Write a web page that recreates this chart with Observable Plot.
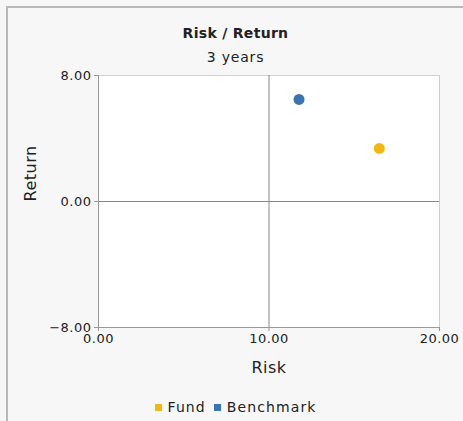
<!DOCTYPE html>
<html><head><meta charset="utf-8">
<script src="https://cdn.jsdelivr.net/npm/d3@7"></script>
<script src="https://cdn.jsdelivr.net/npm/@observablehq/plot@0.6"></script>
<style>
html,body{margin:0;padding:0;background:#f7f7f7;width:463px;height:421px;overflow:hidden;font-family:"DejaVu Sans",sans-serif;}
#wrap{position:relative;width:463px;height:421px;}
#border{position:absolute;left:6px;top:6px;width:600px;height:600px;border-left:2px solid #b8b8b8;border-top:2px solid #b8b8b8;pointer-events:none;}
.t{position:absolute;left:8px;width:455px;text-align:center;color:#222;}
#title{top:25px;font-weight:bold;font-size:14px;letter-spacing:0.3px;}
#sub{top:49px;font-size:14px;letter-spacing:0.8px;}
#legend{top:399px;font-size:14px;letter-spacing:1.1px;}
#legend span.sw{display:inline-block;width:7px;height:7px;margin-right:6px;vertical-align:1px;}
#legend span.it{margin:0 4px;}
#chart{position:absolute;left:0;top:0;}
</style></head>
<body><div id="wrap">
<div id="chart"></div>
<div class="t" id="title">Risk / Return</div>
<div class="t" id="sub">3 years</div>
<div class="t" id="legend"></div>
<div id="border"></div>
</div>
<script>
const series = ["Fund", "Benchmark"];
const colors = ["#f2b811", "#3a74b2"];
const risk = [16.47, 11.76];
const ret = [3.37, 6.48];
const xTicks = [0, 10, 20];
const yTicks = [-8, 0, 8];
const xDomain = [0, 20];
const yDomain = [-8, 8];

const data = series.map((s, i) => ({series: s, risk: risk[i], ret: ret[i]}));

const plot = Plot.plot({
  width: 463,
  height: 392,
  marginLeft: 98,
  marginRight: 24,
  marginTop: 75,
  marginBottom: 65,
  style: {background: "transparent", fontFamily: "DejaVu Sans, sans-serif", fontSize: "13px", color: "#222"},
  x: {domain: xDomain, ticks: xTicks},
  y: {domain: yDomain, ticks: yTicks},
  color: {domain: series, range: colors},
  marks: [
    Plot.frame({fill: "white", stroke: "#cfcfcf"}),
    Plot.ruleX([10], {stroke: "#888", strokeWidth: 1}),
    Plot.ruleY([0], {stroke: "#888", strokeWidth: 1}),
    Plot.axisX({ticks: xTicks, tickFormat: d => d.toFixed(2), tickSize: 4, tickPadding: 2, stroke: "#999", label: null, fontSize: 13}),
    Plot.axisY({ticks: yTicks, tickFormat: d => d < 0 ? "\u2212" + (-d).toFixed(2) : d.toFixed(2), tickSize: 4, tickPadding: 3, stroke: "#999", label: null, fontSize: 13}),
    Plot.ruleX([0], {stroke: "#999"}),
    Plot.ruleY([-8], {stroke: "#999"}),
    Plot.text(["Risk"], {frameAnchor: "bottom", dy: 45, fontSize: 16, fill: "#222"}),
    Plot.text(["Return"], {frameAnchor: "left", dx: -68, rotate: -90, fontSize: 16, fill: "#222"}),
    Plot.dot(data, {x: "risk", y: "ret", fill: "series", r: 5.5, stroke: "none"})
  ]
});
plot.querySelectorAll("text").forEach(t => t.style.letterSpacing = "0.5px");
document.getElementById("chart").appendChild(plot);

const leg = document.getElementById("legend");
series.forEach((s, i) => {
  const it = document.createElement("span");
  it.className = "it";
  it.innerHTML = `<span class="sw" style="background:${colors[i]}"></span>${s}`;
  leg.appendChild(it);
});
</script>
</body></html>
